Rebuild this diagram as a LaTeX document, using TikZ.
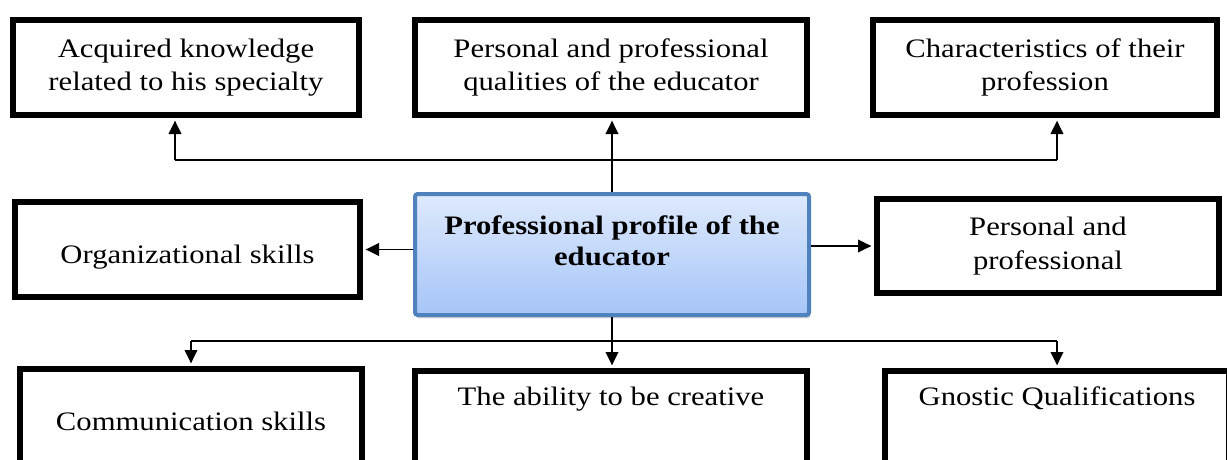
\documentclass[tikz,border=0pt]{standalone}
\usepackage{fontspec}
\setmainfont{Liberation Serif}[FakeStretch=1.15]
\usetikzlibrary{arrows.meta}
\usetikzlibrary{shadows}
\definecolor{profedge}{RGB}{79,129,189}
\definecolor{proftop}{RGB}{222,233,252}
\definecolor{profbottom}{RGB}{166,197,248}
\tikzset{every picture/.style={line width=0.75pt}}
\tikzset{
  itembox/.style={draw=black, line width=4.5pt, fill=white, inner sep=0pt, align=center, font=\fontsize{20}{25}\selectfont},
  profbox/.style={draw=profedge, line width=3pt, rounded corners=2pt, top color=proftop, bottom color=profbottom, inner sep=0pt,
    drop shadow={opacity=0.35, shadow xshift=1pt, shadow yshift=-2.5pt}, font=\fontsize{20}{23.5}\selectfont\bfseries},
  link/.style={draw=black, line width=1.1pt},
  arr/.style={link, -{Triangle[length=10pt,width=9.5pt]}, shorten >=2pt},
}

\begin{document}
\begin{tikzpicture}[x=0.75pt,y=0.75pt,yscale=-1,xscale=1]
\useasboundingbox (0,0) rectangle (1227,460);
\clip (0,0) rectangle (1227,460);

%Shape: Rectangle (top row)
\node[itembox, minimum width=259.5pt, minimum height=71.25pt] (knowledge) at (186,67.5) {Acquired knowledge\\related to his specialty};
\node[itembox, minimum width=294pt, minimum height=71.25pt] (qualities) at (611,67.5) {Personal and professional\\qualities of the educator};
\node[itembox, minimum width=258pt, minimum height=71.25pt] (character) at (1045,67.5) {Characteristics of their\\profession};

%Shape: Rectangle (middle row)
\node[itembox, minimum width=258.75pt, anchor=north, text height=45.75pt, text depth=25.5pt] (organize) at (187.5,199) {Organizational skills};
\node[profbox, minimum width=295.5pt, anchor=north, text height=30pt, text depth=60.75pt] (profile) at (612,192)
  {\begin{tabular}[t]{@{}c@{}}Professional profile of the\\educator\end{tabular}};
\node[itembox, minimum width=256.5pt, minimum height=70.5pt] (personal) at (1048,246) {Personal and\\professional};

%Shape: Rectangle (bottom row)
\node[itembox, minimum width=256.5pt, anchor=north, text height=45.75pt, text depth=60pt] (communicate) at (191,366) {Communication skills};
\node[itembox, minimum width=294pt, anchor=north, text height=25.5pt, text depth=60pt] (creative) at (611,368) {The ability to be creative};
\node[itembox, minimum width=258pt, anchor=north, text height=25.5pt, text depth=60pt] (gnostic) at (1057,368) {Gnostic Qualifications};

%Straight Lines
\coordinate (upleft) at (175,160);
\coordinate (upright) at (1057,160);
\coordinate (downleft) at (191,341);
\coordinate (downright) at (1057,341);

\draw[link] (upleft) -- (upright);
\draw[arr] (upleft) -- (upleft |- knowledge.south);
\draw[arr] (upright) -- (upright |- character.south);
\draw[arr] (profile.north) -- (profile.north |- qualities.south);
\draw[arr] (profile.west |- organize.east) -- (organize.east);
\draw[arr] (profile.east |- personal.west) -- (personal.west);
\draw[arr] (profile.south) -- (profile.south |- creative.north);
\draw[link] (downleft) -- (downright);
\draw[arr] (downleft) -- (downleft |- communicate.north);
\draw[arr] (downright) -- (downright |- gnostic.north);

\end{tikzpicture}
\end{document}
